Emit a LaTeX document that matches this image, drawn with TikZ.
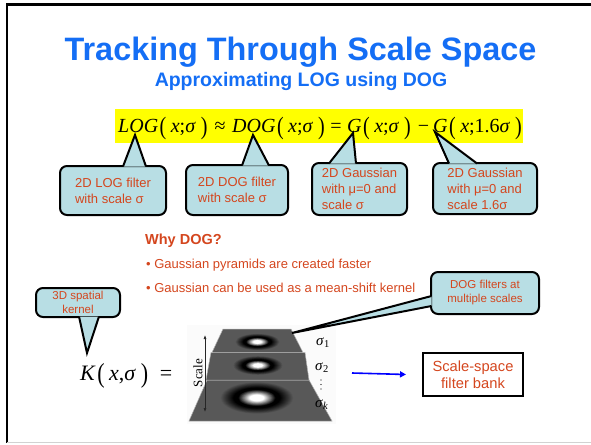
\documentclass[tikz,border=0pt]{standalone}
\usepackage{fontspec}
\setmainfont{Liberation Sans}
\newfontfamily\eqfont{Liberation Serif}
\usetikzlibrary{calc,arrows.meta}

\definecolor{titleblue}{RGB}{20,110,245}
\definecolor{txtorange}{RGB}{212,70,30}
\definecolor{callfill}{RGB}{184,222,228}
\definecolor{eqyellow}{RGB}{255,255,0}
\definecolor{layergray}{RGB}{88,88,88}

% tall parentheses for the formulas
\newcommand\eqlp{\raisebox{-0.12em}{\scalebox{1}[1.25]{(}}}
\newcommand\eqrp{\raisebox{-0.12em}{\scalebox{1}[1.25]{)}}}
\newcommand\eqargs[1]{\kern1.5pt\eqlp\kern4.5pt#1\kern5pt\eqrp}

% difference-of-Gaussians blob: white centre, black ring, fading into the layer
% #1,#2 centre; #3,#4 outer radii
\newcommand\dogblob[4]{%
  \foreach \k in {40,39,...,1}{%
    \pgfmathsetmacro\rr{\k/40}%
    \pgfmathsetmacro\pb{\rr>0.64 ? (1-\rr)/0.36*100 : 100}%
    \pgfmathsetmacro\pw{\rr>0.52 ? 0 : (\rr>0.2 ? (0.52-\rr)/0.32*100 : 100)}%
    \fill[white!\pw!black!\pb!layergray] (#1,#2) ellipse [x radius=#3*\rr, y radius=#4*\rr];
  }}

\begin{document}
\begin{tikzpicture}[x=1pt,y=-1pt,
  callbox/.style={draw,line width=2pt,fill=callfill,rounded corners=7pt,
    text=txtorange,inner sep=0pt,align=left,
    font=\fontsize{13}{16}\selectfont},
  smallcall/.style={callbox,align=center,font=\fontsize{11.5}{13.5}\selectfont},
  pointer/.style={fill=callfill,draw,line width=2pt,line join=miter},
  eqpart/.style={inner sep=0pt,anchor=base west,
    font=\eqfont\fontsize{20}{24}\selectfont},
  eqsym/.style={inner sep=0pt,anchor=base,
    font=\eqfont\fontsize{20}{24}\selectfont},
  bodytext/.style={inner sep=0pt,anchor=base west,text=txtorange,
    font=\fontsize{13}{16}\selectfont},
  sigmalbl/.style={inner sep=0pt,anchor=base west,
    font=\eqfont\fontsize{15}{18}\selectfont},
  layeredge/.style={draw=gray!60,line width=0.5pt},
  bluearrow/.style={draw=blue,line width=1.6pt,
    -{Triangle[length=6pt,width=6pt]}}
]
\useasboundingbox (0,0) rectangle (591,444);

% slide frame
\draw[line width=2.5pt] (591,4.7) -- (6.8,4.7) -- (6.8,443);
\draw[gray!35,line width=0.8pt] (6.8,442.6) -- (591,442.6);

% headings
\node[anchor=base,inner sep=0pt,text=titleblue,
  font=\fontsize{32.4}{36}\selectfont\bfseries] (title) at (300.5,60)
  {Tracking Through Scale Space};
\node[anchor=base,inner sep=0pt,text=titleblue,
  font=\fontsize{19.5}{22}\selectfont\bfseries] (subtitle) at (301,86)
  {Approximating LOG using DOG};

% the formula on its yellow band
\node[fill=eqyellow,minimum width=408pt,minimum height=34pt,inner sep=0pt]
  (eqband) at (319,126) {};
\node[eqpart] (eqlog) at (118,132) {\textit{LOG}\eqargs{\textit{x};\textit{σ}}};
\node[eqsym]  (eqapprox) at (220,132) {≈};
\node[eqpart] (eqdog) at (232,132) {\textit{DOG}\eqargs{\textit{x};\textit{σ}}};
\node[eqsym]  (eqequal) at (336,132) {=};
\node[eqpart] (eqga) at (347,132) {\textit{G}\eqargs{\textit{x};\textit{σ}}};
\node[eqsym]  (eqminus) at (423.5,132) {−};
\node[eqpart] (eqgb) at (433,132) {\textit{G}\eqargs{\textit{x};1.6\textit{σ}}};

% callouts under the formula
\coordinate (tip1) at (135,135);
\coordinate (tip2) at (253,135);
\coordinate (tip3) at (353,133);
\coordinate (tip4) at (435,132);

\node[callbox,minimum width=106pt,minimum height=49pt] (c1) at (113,190.5)
  {2D LOG filter\\with scale σ};
\node[callbox,minimum width=102pt,minimum height=50pt] (c2) at (237,190)
  {2D DOG filter\\with scale σ};
\node[callbox,minimum width=95pt,minimum height=52pt] (c3) at (359.5,189)
  {2D Gaussian\\with μ=0 and\\scale σ};
\node[callbox,minimum width=104pt,minimum height=51pt] (c4) at (485,188.5)
  {2D Gaussian\\with μ=0 and\\scale 1.6σ};

\filldraw[pointer] ($(c1.north west)+(64,1.5)$) -- (tip1) -- ($(c1.north west)+(87,1.5)$);
\filldraw[pointer] ($(c2.north west)+(57,1.5)$) -- (tip2) -- ($(c2.north west)+(84,1.5)$);
\filldraw[pointer] ($(c3.north west)+(18,1.5)$) -- (tip3) -- ($(c3.north west)+(45,1.5)$);
\filldraw[pointer] ($(c4.north west)+(17,1.5)$) -- (tip4) -- ($(c4.north west)+(45,1.5)$);

% why DOG
\node[bodytext,font=\fontsize{14.5}{17}\selectfont\bfseries] (why) at (145,244) {Why DOG?};
\node[bodytext] (bul1) at (146,268) {• Gaussian pyramids are created faster};
\node[bodytext] (bul2) at (146,292) {• Gaussian can be used as a mean-shift kernel};

% K(x, sigma) =
\node[eqpart,font=\eqfont\fontsize{22}{26}\selectfont] (kfun) at (80,380)
  {\textit{K}\eqargs{\textit{x},\textit{σ}}};
\node[eqsym,font=\eqfont\fontsize{22}{26}\selectfont] (kequal) at (166,380) {=};

% filter pyramid, bottom layer first
\fill[gray!3] (187,325) rectangle (336,424);
\fill[layergray] (207,380) -- (309,380) -- (332,421) -- (189,421) -- cycle;
\dogblob{257}{398}{37}{16}
\path[layeredge] (207,380) -- (309,380) -- (332,421) -- (189,421) -- cycle;

\fill[layergray] (211,352.5) -- (305,352.5) -- (309,380) -- (206,380) -- cycle;
\dogblob{258}{365.5}{25}{9.5}
\path[layeredge] (211,352.5) -- (305,352.5) -- (309,380) -- (206,380) -- cycle;

\fill[layergray] (223,329) -- (291,329) -- (303,352.5) -- (212,352.5) -- cycle;
\dogblob{257.5}{342}{22.5}{8.3}
\path[layeredge] (223,329) -- (291,329) -- (303,352.5) -- (212,352.5) -- cycle;

\coordinate (scaletop) at (205,335);
\coordinate (scalebot) at (205,412);
\draw[black!85,line width=0.6pt,{Latex[length=4pt,width=3pt]}-{Latex[length=4pt,width=3pt]}]
  (scaletop) -- (scalebot);
\node[inner sep=0pt,rotate=90,font=\eqfont\fontsize{13}{15}\selectfont] (scalelbl)
  at (198,373) {Scale};

% scale labels beside the layers
\node[sigmalbl] (s1) at (316,345) {\textit{σ}\textsubscript{1}};
\node[sigmalbl] (s2) at (315,370) {\textit{σ}\textsubscript{2}};
\foreach \dy in {380,384.5,389} \fill (321,\dy) circle (0.65pt);
\node[sigmalbl] (sk) at (315,407) {\textit{σ}\textsubscript{\textit{k}}};
\coordinate (pyrtop) at (292,333);

% spatial kernel and filter-bank callouts
\coordinate (tip5) at (87,353);
\node[smallcall,minimum width=84pt,minimum height=29pt] (c5) at (78,302.5)
  {3D spatial\\kernel};
\filldraw[pointer] ($(c5.south west)+(44,-1.5)$) -- (tip5) -- ($(c5.south west)+(64,-1.5)$);

\node[smallcall,minimum width=108pt,minimum height=42pt,
  font=\fontsize{11.5}{14}\selectfont] (c6) at (485,293)
  {DOG filters at\\multiple scales};
\filldraw[pointer] ($(c6.west)+(1.5,3)$) -- (pyrtop) -- ($(c6.west)+(1.5,13)$);

% result
\node[draw,line width=2pt,minimum width=100pt,minimum height=43pt,inner sep=0pt,
  align=center,text=txtorange,font=\fontsize{14.7}{17}\selectfont] (bank)
  at (473,374.5) {Scale-space\\filter bank};
\coordinate (arrowtail) at (352,373);
\draw[bluearrow] (arrowtail) -- ([xshift=-16pt]bank.west);
\end{tikzpicture}
\end{document}
